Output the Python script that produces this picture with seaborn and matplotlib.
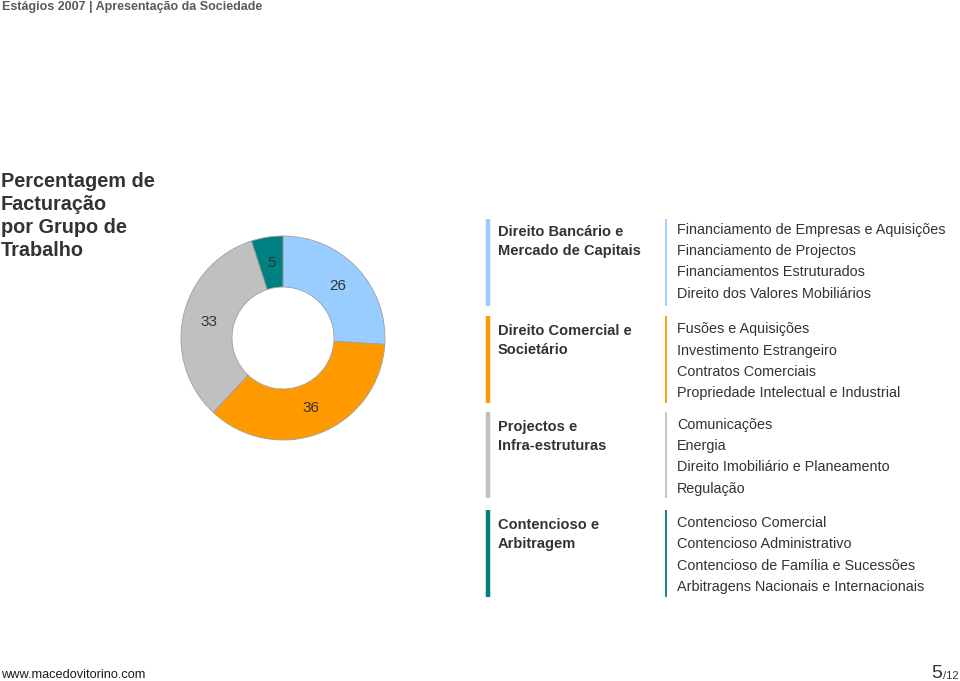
import matplotlib
matplotlib.use("Agg")
import matplotlib.pyplot as plt
import seaborn as sns
import pandas as pd

# donut data (clockwise from top)
groups = ["Direito Bancário e\nMercado de Capitais", "Direito Comercial e\nSocietário",
          "Projectos e\nInfra-estruturas", "Contencioso e\nArbitragem"]
shares = [26, 36, 33, 5]
colors = ["#99CCFF", "#FF9900", "#C0C0C0", "#008080"]
areas = [
    ["Financiamento de Empresas e Aquisições", "Financiamento de Projectos",
     "Financiamentos Estruturados", "Direito dos Valores Mobiliários"],
    ["Fusões e Aquisições", "Investimento Estrangeiro", "Contratos Comerciais",
     "Propriedade Intelectual e Industrial"],
    ["Comunicações", "Energia", "Direito Imobiliário e Planeamento", "Regulação"],
    ["Contencioso Comercial", "Contencioso Administrativo",
     "Contencioso de Família e Sucessões", "Arbitragens Nacionais e Internacionais"],
]

df = pd.DataFrame({"grupo": groups, "pct": shares, "cor": colors})

sns.set_theme(style="white")
plt.rcParams["font.family"] = ["Liberation Sans", "DejaVu Sans"]

W, H = 960, 681
fig = plt.figure(figsize=(W / 100, H / 100), dpi=100)
fig.patch.set_facecolor("white")


def px(x, y):
    return x / W, 1 - y / H


txt = "#333333"

# header
fig.text(*px(2, 7), "Estágios 2007 | Apresentação da Sociedade", fontsize=9,
         fontweight="bold", color="#5a5a5a", va="center", ha="left")

# left title
for i, line in enumerate(["Percentagem de", "Facturação", "por Grupo de", "Trabalho"]):
    fig.text(*px(1, 181 + i * 23.3), line, fontsize=14.3, fontweight="bold",
             color=txt, va="center", ha="left")

# donut
cx, cy, R = 283, 338, 102
half = 112
ax = fig.add_axes([(cx - half) / W, (H - cy - half) / H, 2 * half / W, 2 * half / H])
wedges, _, autotexts = ax.pie(
    df["pct"], colors=df["cor"], startangle=90, counterclock=False,
    autopct=lambda p: f"{p:.0f}", pctdistance=0.74,
    wedgeprops=dict(width=0.5, edgecolor="#a0a0a0", linewidth=0.6),
    textprops=dict(fontsize=11, color=txt),
)
lim = half / R
ax.set_xlim(-lim, lim)
ax.set_ylim(-lim, lim)
ax.set_aspect("equal")
ax.axis("off")

# group blocks
bar_ax = fig.add_axes([0, 0, 1, 1], facecolor="none")
bar_ax.set_xlim(0, W)
bar_ax.set_ylim(H, 0)
bar_ax.axis("off")
blocks = [(219, 306), (316, 403), (412, 498), (510, 597)]
item_y = [[230, 251, 272, 294], [329, 351, 372, 393], [425, 446, 467, 489], [523, 544, 566, 587]]
for (top, bot), col, grp, items, ys in zip(blocks, colors, groups, areas, item_y):
    bar_ax.plot([488, 488], [top, bot], color=col, linewidth=3.2, solid_capstyle="butt")
    bar_ax.plot([666, 666], [top, bot], color=col, linewidth=1.3, solid_capstyle="butt")
    for j, line in enumerate(grp.split("\n")):
        bar_ax.text(498, ys[0] + 2 + j * 19, line, fontsize=10.5, fontweight="bold",
                    color=txt, va="center", ha="left")
    for y, it in zip(ys, items):
        bar_ax.text(677, y, it, fontsize=10.4, color=txt, va="center", ha="left")

# footer
fig.text(*px(1, 675), "www.macedovitorino.com", fontsize=9.2,
         color="#1a1a1a", va="center", ha="left")
fig.text(*px(931, 673), "5", fontsize=14, color=txt, va="center", ha="left")
fig.text(*px(943, 676), "/12", fontsize=8, color=txt, va="center", ha="left")

fig.savefig("out.png", dpi=100)
